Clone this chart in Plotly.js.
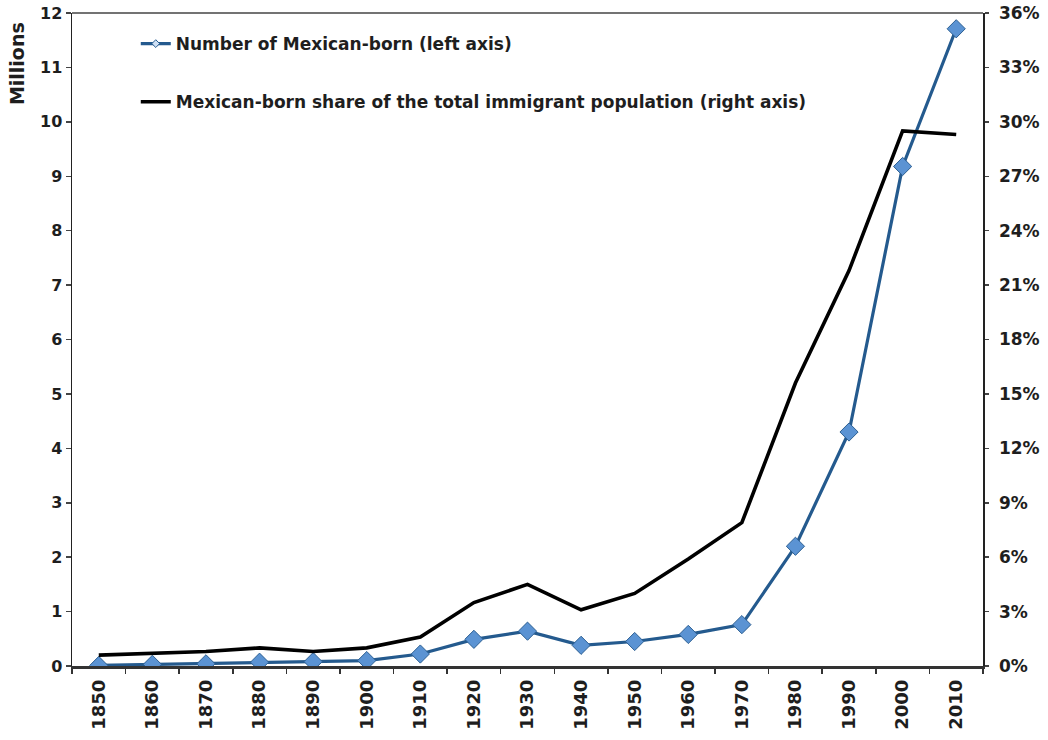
<!DOCTYPE html>
<html>
<head>
<meta charset="utf-8">
<script src="https://cdn.plot.ly/plotly-3.0.1.min.js"></script>
<style>
  html, body { margin: 0; padding: 0; background: #ffffff; }
  #chart { width: 1048px; height: 740px; }
</style>
</head>
<body>
<div id="chart"></div>
<script>
// Census years
const years = ["1850", "1860", "1870", "1880", "1890", "1900", "1910", "1920", "1930",
               "1940", "1950", "1960", "1970", "1980", "1990", "2000", "2010"];

// Mexican-born population, millions (left axis)
const mexicanBorn = [0.01, 0.03, 0.04, 0.07, 0.08, 0.10, 0.22, 0.49, 0.64,
                     0.38, 0.45, 0.58, 0.76, 2.20, 4.30, 9.18, 11.71];

// Mexican-born share of all immigrants (right axis)
const mexicanShare = [0.006, 0.007, 0.008, 0.010, 0.008, 0.010, 0.016, 0.035, 0.045,
                      0.031, 0.040, 0.059, 0.079, 0.156, 0.218, 0.295, 0.293];

const seriesNames = [
  "Number of Mexican-born (left axis)",
  "Mexican-born share of the total immigrant population (right axis)"
];

const font = "Verdana, 'DejaVu Sans', sans-serif";
const ink = "#1e1e1e";
const blueLine = "#245a8e";
const blueFill = "#5b93d3";

const traces = [
  {
    x: years, y: mexicanBorn, name: seriesNames[0], type: "scatter", mode: "lines+markers",
    yaxis: "y", showlegend: false,
    line: { color: blueLine, width: 3.2 },
    marker: { symbol: "diamond", size: 14, color: blueFill, line: { color: "#2c5f92", width: 1 } }
  },
  {
    x: years, y: mexicanShare, name: seriesNames[1], type: "scatter", mode: "lines",
    yaxis: "y2", showlegend: false,
    line: { color: "#000000", width: 3.6 }
  },
  // legend keys (small diamond on the blue key, plain black key)
  {
    x: [null], y: [null], name: seriesNames[0], type: "scatter", mode: "lines+markers",
    legendgroup: "a",
    line: { color: blueLine, width: 3.2 },
    marker: { symbol: "diamond", size: 6, color: "#cfe0f4", line: { color: blueLine, width: 1 } }
  },
  {
    x: [null], y: [null], name: seriesNames[1], type: "scatter", mode: "lines",
    legendgroup: "b", yaxis: "y2",
    line: { color: "#000000", width: 3.6 }
  }
];

const layout = {
  width: 1048, height: 740,
  margin: { l: 72, r: 65, t: 13, b: 74, pad: 0 },
  paper_bgcolor: "#ffffff", plot_bgcolor: "#ffffff",
  font: { family: font, color: ink, size: 16 },
  showlegend: true,
  legend: {
    x: 0.070, y: 0.980, xanchor: "left", yanchor: "top",
    bgcolor: "rgba(0,0,0,0)", borderwidth: 0,
    font: { family: font, size: 17, color: ink, weight: "bold" },
    tracegroupgap: 33, itemwidth: 30
  },
  xaxis: {
    type: "category", range: [-0.5, 16.5],
    showgrid: false, zeroline: false,
    showline: true, linecolor: "#333333", linewidth: 2.5,
    ticks: "outside", tickson: "boundaries", ticklen: 5, tickwidth: 1.5, tickcolor: "#333333",
    tickangle: -90, ticklabelstandoff: 4,
    tickfont: { family: font, size: 18, color: ink, weight: "bold" }
  },
  yaxis: {
    range: [0, 12], dtick: 1, tick0: 0,
    showgrid: false, zeroline: false,
    showline: true, linecolor: "#222222", linewidth: 1.5,
    ticks: "outside", ticklen: 5, tickwidth: 1.5, tickcolor: "#444444",
    tickfont: { family: font, size: 16, color: ink, weight: "bold" }
  },
  yaxis2: {
    overlaying: "y", side: "right",
    range: [0, 0.36], dtick: 0.03, tick0: 0, tickformat: ".0%",
    showgrid: false, zeroline: false,
    showline: true, linecolor: "#222222", linewidth: 1.5,
    ticks: "outside", ticklen: 4, tickwidth: 1.5, tickcolor: "#444444",
    ticklabelstandoff: 7,
    tickfont: { family: font, size: 17, color: ink, weight: "bold" }
  },
  shapes: [
    { type: "line", xref: "paper", yref: "paper", x0: 0, x1: 1, y0: 1, y1: 1,
      line: { color: "#444444", width: 1.5 } }
  ],
  annotations: [
    { text: "Millions", xref: "paper", yref: "paper", x: -0.061, y: 0.989,
      xanchor: "center", yanchor: "top", textangle: -90, showarrow: false,
      font: { family: font, size: 19, color: ink, weight: "bold" } }
  ]
};

Plotly.newPlot("chart", traces, layout, { staticPlot: true, displayModeBar: false });
</script>
</body>
</html>
